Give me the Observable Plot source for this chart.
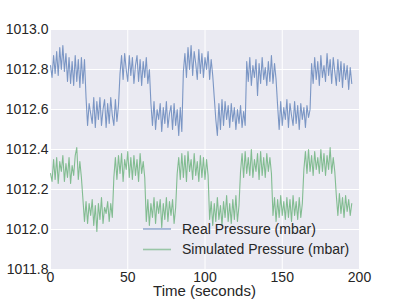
<!DOCTYPE html>
<html><head><meta charset="utf-8">
<script src="https://cdn.jsdelivr.net/npm/d3@7"></script>
<script src="https://cdn.jsdelivr.net/npm/@observablehq/plot@0.6"></script>
<style>
body{margin:0;background:#fff}
#chart svg{font-family:"Liberation Sans",Arial,sans-serif;display:block}
</style>
</head><body><div id="chart"></div>
<script>
// seconds between successive readings
const sampleStep = 1;

const realPressure = [
1012.82,1012.76,1012.87,1012.78,1012.89,1012.77,1012.91,1012.80,1012.92,1012.79,1012.88,1012.74,1012.86,1012.73,1012.84,1012.72,1012.87,1012.74,1012.85,1012.71,1012.86,1012.73,1012.85,
1012.66,1012.52,1012.63,1012.58,1012.53,1012.66,1012.51,1012.64,1012.55,1012.66,1012.52,1012.60,1012.65,1012.51,1012.63,1012.53,1012.66,1012.57,1012.52,1012.65,1012.54,1012.62,
1012.78,1012.87,1012.75,1012.88,1012.80,1012.74,1012.87,1012.77,1012.86,1012.73,1012.82,1012.87,1012.74,1012.85,1012.72,1012.84,1012.76,1012.86,1012.73,1012.80,
1012.63,1012.52,1012.64,1012.50,1012.60,1012.55,1012.63,1012.49,1012.61,1012.53,1012.64,1012.51,1012.58,1012.62,1012.50,1012.63,1012.52,1012.60,1012.47,1012.61,1012.49,
1012.79,1012.88,1012.76,1012.91,1012.80,1012.92,1012.77,1012.89,1012.83,1012.75,1012.90,1012.78,1012.88,1012.76,1012.86,1012.80,1012.89,1012.75,1012.85,1012.77,
1012.66,1012.55,1012.47,1012.63,1012.50,1012.65,1012.52,1012.64,1012.55,1012.62,1012.51,1012.63,1012.54,1012.61,1012.50,1012.60,1012.53,1012.62,1012.51,1012.59,1012.52,
1012.84,1012.74,1012.86,1012.72,1012.82,1012.76,1012.85,1012.67,1012.83,1012.73,1012.86,1012.75,1012.81,1012.72,1012.84,1012.74,1012.87,1012.73,1012.83,1012.75,
1012.62,1012.50,1012.64,1012.52,1012.61,1012.55,1012.65,1012.51,1012.63,1012.57,1012.52,1012.64,1012.53,1012.62,1012.50,1012.63,1012.55,1012.61,1012.51,1012.62,1012.56,1012.60,
1012.83,1012.73,1012.86,1012.75,1012.84,1012.72,1012.87,1012.76,1012.82,1012.74,1012.88,1012.77,1012.85,1012.73,1012.86,1012.79,1012.72,1012.85,1012.74,1012.84,1012.71,1012.83,1012.75,1012.82,1012.70,1012.81,1012.73
];

const simulatedPressure = [
1012.28,1012.24,1012.35,1012.25,1012.36,1012.23,1012.34,1012.29,1012.37,1012.24,1012.33,1012.26,1012.36,1012.23,1012.32,1012.27,1012.37,1012.41,1012.25,1012.34,1012.26,
1012.15,1012.04,1012.14,1012.03,1012.13,1012.07,1012.15,1012.02,1012.12,1011.99,1012.13,1012.05,1012.16,1012.03,1012.11,1012.08,1012.14,1012.04,1012.13,1012.06,
1012.26,1012.36,1012.25,1012.37,1012.28,1012.38,1012.24,1012.35,1012.30,1012.39,1012.26,1012.36,1012.25,1012.37,1012.27,1012.35,1012.24,1012.38,1012.28,1012.34,1012.26,
1012.04,1012.15,1012.02,1012.13,1012.06,1012.16,1012.03,1012.14,1012.08,1012.15,1012.01,1012.13,1012.05,1012.16,1012.04,1012.14,1012.07,1012.15,1012.03,1012.11,
1012.28,1012.36,1012.25,1012.38,1012.26,1012.37,1012.24,1012.39,1012.29,1012.35,1012.25,1012.38,1012.27,1012.34,1012.24,1012.37,1012.26,1012.36,1012.25,1012.35,1012.27,
1012.05,1012.14,1012.02,1012.13,1012.04,1012.16,1012.05,1012.12,1012.02,1012.14,1012.06,1012.17,1012.04,1012.13,1012.03,1012.15,1012.05,1012.17,1012.04,1012.12,
1012.29,1012.38,1012.26,1012.39,1012.28,1012.36,1012.27,1012.40,1012.26,1012.35,1012.29,1012.38,1012.25,1012.39,1012.27,1012.36,1012.26,1012.38,1012.29,1012.36,1012.28,
1012.07,1012.16,1012.04,1012.15,1012.06,1012.17,1012.07,1012.14,1012.05,1012.16,1012.06,1012.15,1012.04,1012.17,1012.07,1012.14,1012.05,1012.16,1012.06,1012.13,
1012.30,1012.39,1012.28,1012.40,1012.29,1012.37,1012.27,1012.39,1012.30,1012.36,1012.28,1012.40,1012.29,1012.38,1012.27,1012.37,1012.30,1012.41,1012.28,1012.36,1012.29,
1012.17,1012.07,1012.18,1012.08,1012.16,1012.06,1012.17,1012.09,1012.15,1012.07,1012.13
];

const seriesNames = ["Real Pressure (mbar)", "Simulated Pressure (mbar)"];
const seriesColors = ["#4C72B0", "#55A868"];
const xTicks = [0, 50, 100, 150, 200];
const yTicks = [1011.8, 1012.0, 1012.2, 1012.4, 1012.6, 1012.8, 1013.0];
const xLabel = "Time (seconds)";

const rows = [];
realPressure.forEach((v, i) => rows.push({t: i * sampleStep, p: v, s: seriesNames[0]}));
simulatedPressure.forEach((v, i) => rows.push({t: i * sampleStep, p: v, s: seriesNames[1]}));

const W = 399, H = 299, ML = 50, MR = 40, MT = 29, MB = 30;

const chart = Plot.plot({
  width: W, height: H,
  marginLeft: ML, marginRight: MR, marginTop: MT, marginBottom: MB,
  style: {background: "transparent", fontSize: "14px", fontFamily: "'Liberation Sans', Arial, sans-serif", color: "#262626", overflow: "visible"},
  x: {domain: [0, 200], ticks: xTicks, tickSize: 0, tickPadding: 3, label: null, tickFormat: d => String(d)},
  y: {domain: [1011.8, 1013.0], ticks: yTicks, tickSize: 0, tickPadding: 2, label: null, tickFormat: d => d.toFixed(1)},
  color: {domain: seriesNames, range: seriesColors},
  marks: [
    Plot.frame({fill: "#EAEAF2", stroke: null}),
    Plot.gridX(xTicks, {stroke: "#fff", strokeOpacity: 1, strokeWidth: 1}),
    Plot.gridY(yTicks, {stroke: "#fff", strokeOpacity: 1, strokeWidth: 1}),
    Plot.line(rows, {x: "t", y: "p", z: "s", stroke: "s", strokeWidth: 1.1, strokeOpacity: 0.7})
  ]
});

document.getElementById("chart").appendChild(chart);

// legend and axis title
const svg = d3.select(chart);
const lg = svg.append("g");
seriesNames.forEach((name, i) => {
  const y = 229 + i * 20.5;
  lg.append("line").attr("x1", 143).attr("x2", 171).attr("y1", y).attr("y2", y)
    .attr("stroke", seriesColors[i]).attr("stroke-width", 1.6).attr("stroke-opacity", 0.55);
  lg.append("text").attr("x", 182).attr("y", y).attr("dy", "0.35em")
    .style("text-anchor", "start").style("font-size", "14px").style("fill", "#262626")
    .style("font-family", "'Liberation Sans', Arial, sans-serif").text(name);
});
svg.append("text").attr("x", (ML + W - MR) / 2).attr("y", 296)
  .style("text-anchor", "middle").style("font-size", "15px").style("fill", "#262626")
  .style("font-family", "'Liberation Sans', Arial, sans-serif").text(xLabel);
</script>
</body></html>
